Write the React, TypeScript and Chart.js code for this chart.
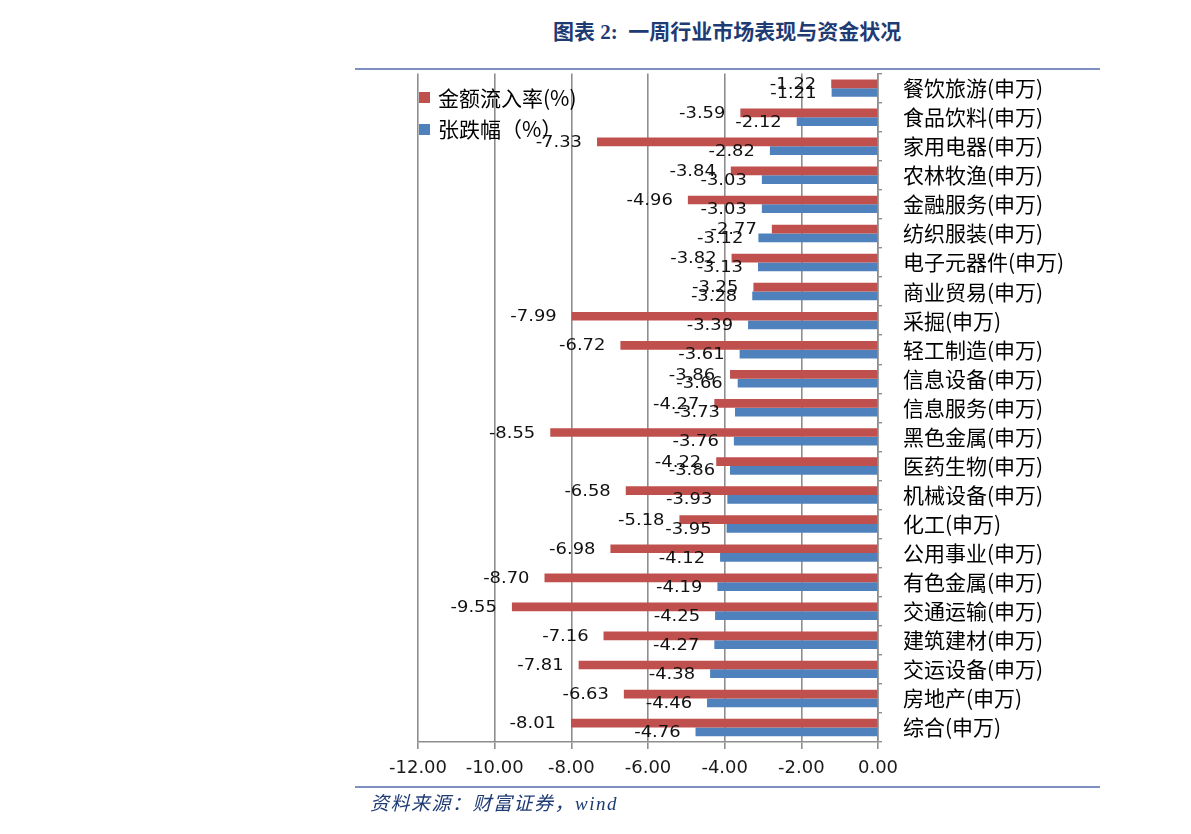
import React, { useEffect, useRef } from "react";
import { Chart, registerables } from "chart.js";

Chart.register(...registerables);

const categories = [
  "餐饮旅游(申万)", "食品饮料(申万)", "家用电器(申万)", "农林牧渔(申万)", "金融服务(申万)",
  "纺织服装(申万)", "电子元器件(申万)", "商业贸易(申万)", "采掘(申万)", "轻工制造(申万)",
  "信息设备(申万)", "信息服务(申万)", "黑色金属(申万)", "医药生物(申万)", "机械设备(申万)",
  "化工(申万)", "公用事业(申万)", "有色金属(申万)", "交通运输(申万)", "建筑建材(申万)",
  "交运设备(申万)", "房地产(申万)", "综合(申万)",
];

const inflowRate = [
  -1.22, -3.59, -7.33, -3.84, -4.96, -2.77, -3.82, -3.25, -7.99, -6.72, -3.86, -4.27,
  -8.55, -4.22, -6.58, -5.18, -6.98, -8.70, -9.55, -7.16, -7.81, -6.63, -8.01,
];

const priceChange = [
  -1.21, -2.12, -2.82, -3.03, -3.03, -3.12, -3.13, -3.28, -3.39, -3.61, -3.66, -3.73,
  -3.76, -3.86, -3.93, -3.95, -4.12, -4.19, -4.25, -4.27, -4.38, -4.46, -4.76,
];

const seriesNames = ["金额流入率(%)", "张跌幅（%）"];
const xTicks = [-12, -10, -8, -6, -4, -2, 0];

const RED = "#C0504D";
const BLUE = "#4F81BD";
const GRID = "#8E8E8E";
const CJK = '"Noto Sans CJK SC", "Noto Sans", sans-serif';

const labelPlugin = {
  id: "barValueLabels",
  afterDatasetsDraw(chart: any) {
    const ctx = chart.ctx;
    ctx.save();
    ctx.font = '16px "DejaVu Sans", sans-serif';
    ctx.fillStyle = "#111";
    ctx.textAlign = "right";
    ctx.textBaseline = "middle";
    chart.data.datasets.forEach((ds: any, di: number) => {
      const meta = chart.getDatasetMeta(di);
      meta.data.forEach((el: any, i: number) => {
        const v = ds.data[i] as number;
        ctx.save();
        ctx.translate(el.x - 15, el.y + 1);
        ctx.scale(1.12, 1);
        ctx.fillText(v.toFixed(2), 0, 0);
        ctx.restore();
      });
    });
    ctx.restore();
  },
};

export default function App() {
  const canvasRef = useRef<HTMLCanvasElement | null>(null);

  useEffect(() => {
    document.body.style.margin = "0";
    const canvas = canvasRef.current;
    if (!canvas) return;
    const chart = new Chart(canvas, {
      type: "bar",
      data: {
        labels: categories,
        datasets: [
          {
            label: seriesNames[0],
            data: inflowRate,
            backgroundColor: RED,
            barPercentage: 1,
            categoryPercentage: 0.6,
          },
          {
            label: seriesNames[1],
            data: priceChange,
            backgroundColor: BLUE,
            barPercentage: 1,
            categoryPercentage: 0.6,
          },
        ],
      },
      options: {
        indexAxis: "y",
        responsive: false,
        maintainAspectRatio: false,
        animation: false,
        layout: { padding: { left: 68, top: 13, right: 0, bottom: 0 } },
        plugins: {
          legend: { display: false },
          tooltip: { enabled: false },
        },
        scales: {
          x: {
            type: "linear",
            position: "bottom",
            min: -12,
            max: 0,
            afterBuildTicks: (scale: any) => {
              scale.ticks = xTicks.map((v) => ({ value: v }));
            },
            afterFit: (scale: any) => {
              scale.height = 58;
            },
            grid: {
              color: GRID,
              lineWidth: 1.6,
              drawTicks: true,
              tickLength: 7,
            },
            border: { display: true, color: GRID, width: 1.6 },
            ticks: {
              font: { family: '"DejaVu Sans", sans-serif', size: 18 },
              color: "#1a1a1a",
              padding: 9,
              callback: (v: any) => Number(v).toFixed(2),
            },
          },
          y: {
            type: "category",
            position: "right",
            afterFit: (scale: any) => {
              scale.width = 232;
            },
            grid: {
              drawOnChartArea: false,
              drawTicks: true,
              tickLength: 4,
              color: GRID,
              lineWidth: 1.4,
            },
            border: { display: true, color: GRID, width: 1.6 },
            ticks: {
              font: { family: CJK, size: 21 },
              color: "#000",
              padding: 21,
              autoSkip: false,
            },
          },
        },
      },
      plugins: [labelPlugin],
    } as any);
    return () => chart.destroy();
  }, []);

  const serifCjk = '"Liberation Serif", "Noto Sans CJK SC", serif';

  return (
    <div style={{ position: "relative", width: 1191, height: 834, background: "#fff", overflow: "hidden" }}>
      <div
        style={{
          position: "absolute",
          left: 553,
          top: 15,
          whiteSpace: "nowrap",
          fontFamily: serifCjk,
          fontWeight: "bold",
          fontSize: 21,
          color: "#1F3B73",
        }}
      >
        图表 2:&nbsp;&nbsp;一周行业市场表现与资金状况
      </div>
      <div style={{ position: "absolute", left: 355, top: 68, width: 745, height: 2, background: "#7D8FC3" }} />
      <canvas
        ref={canvasRef}
        width={760}
        height={760}
        style={{ position: "absolute", left: 350, top: 40, width: 760, height: 760 }}
      />
      <div style={{ position: "absolute", left: 419, top: 92, width: 11, height: 11, background: RED }} />
      <div
        style={{
          position: "absolute",
          left: 438,
          top: 83,
          whiteSpace: "nowrap",
          fontFamily: CJK,
          fontSize: 21,
          lineHeight: "28px",
          color: "#000",
        }}
      >
        {seriesNames[0]}
      </div>
      <div style={{ position: "absolute", left: 419, top: 124, width: 11, height: 11, background: BLUE }} />
      <div
        style={{
          position: "absolute",
          left: 438,
          top: 114,
          whiteSpace: "nowrap",
          fontFamily: CJK,
          fontSize: 21,
          lineHeight: "28px",
          color: "#000",
        }}
      >
        {seriesNames[1]}
      </div>
      <div style={{ position: "absolute", left: 355, top: 786, width: 745, height: 2, background: "#7D8FC3" }} />
      <div
        style={{
          position: "absolute",
          left: 370,
          top: 788,
          whiteSpace: "nowrap",
          fontFamily: serifCjk,
          fontStyle: "italic",
          fontSize: 19,
          letterSpacing: "1.5px",
          color: "#1F3B73",
        }}
      >
        资料来源：财富证券，wind
      </div>
    </div>
  );
}
